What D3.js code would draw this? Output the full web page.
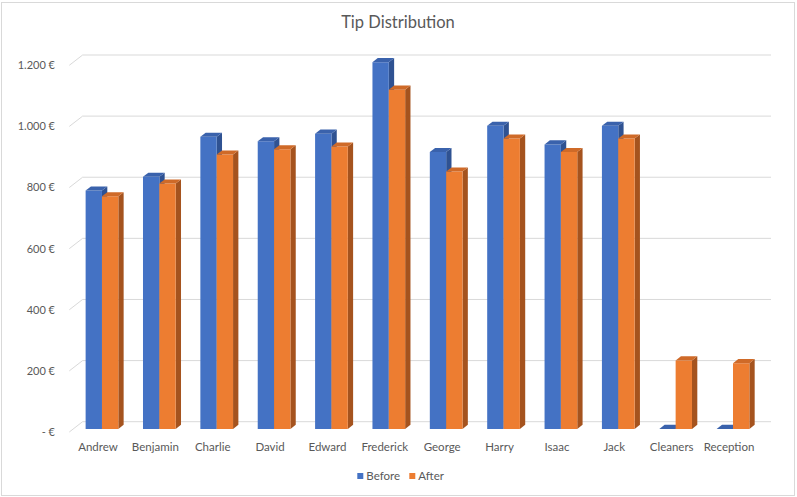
<!DOCTYPE html>
<html>
<head>
<meta charset="utf-8">
<script src="https://cdn.jsdelivr.net/npm/d3@7"></script>
<style>
  html, body { margin: 0; padding: 0; background: #fff; }
  svg { display: block; font-family: Lato, "Open Sans", sans-serif; }
</style>
</head>
<body>
<div id="chart"></div>
<script>
// Tip distribution - fake 3D clustered columns (Excel look)

const categories = ["Andrew", "Benjamin", "Charlie", "David", "Edward", "Frederick",
                    "George", "Harry", "Isaac", "Jack", "Cleaners", "Reception"];
const seriesNames = ["Before", "After"];
const before = [780, 825, 956, 941, 966, 1200, 906, 992, 931, 992, 0, 0];
const after  = [761, 803, 898, 915, 924, 1110, 842, 950, 906, 950, 224, 215];
const yTicks = [0, 200, 400, 600, 800, 1000, 1200];

const width = 797, height = 497;
const colors = {
    Before: { front: "#4472C4", top: "#3A62AC", side: "#2F5292" },
    After:  { front: "#ED7D31", top: "#CF6A28", side: "#A5531E" }
};

// depth vector from front plane to back wall
const DX = 13.3, DY = -10.3;
const T0 = 0.3, T1 = 0.7; // bar front / back depth

const svg = d3.select("#chart").append("svg")
    .attr("width", width)
    .attr("height", height);

// chart border
svg.append("rect")
    .attr("x", 1.5).attr("y", 2.5)
    .attr("width", 793).attr("height", 493)
    .attr("fill", "#fff")
    .attr("stroke", "#d9d9d9");

const yBack = d3.scaleLinear().domain([0, 1200]).range([421.7, 55]);
const yFront = v => yBack(v) - DY;

const x0 = d3.scaleBand()
    .domain(categories)
    .range([69.3, 757.7])
    .paddingInner(0.43)
    .paddingOuter(0.215);
const x1 = d3.scaleBand()
    .domain(seriesNames)
    .range([0, x0.bandwidth()]);

// project a front-plane point to depth t
const P = (x, v, t) => [x + t * DX, yFront(v) + t * DY];

// gridlines: back wall + left wall diagonal
const grid = svg.append("g").attr("stroke", "#d9d9d9").attr("fill", "none");
yTicks.forEach(v => {
    const a = P(69.3, v, 0), b = P(69.3, v, 1);
    grid.append("path")
        .attr("d", `M${a[0]},${a[1]}L${b[0]},${b[1]}L${757.7 + DX},${b[1]}`);
});

// y labels
const fmt = v => v === 0 ? "- €" : d3.format(",")(v).replace(/,/g, ".") + " €";
svg.append("g").selectAll("text")
    .data(yTicks)
    .enter().append("text")
    .attr("x", 55)
    .attr("y", d => yFront(d))
    .attr("dy", "0.35em")
    .attr("text-anchor", "end")
    .attr("fill", "#595959")
    .style("font-size", "11px")
    .text(fmt);

// bars
const rows = categories.map((c, i) => ({ cat: c, Before: before[i], After: after[i] }));
const bars = svg.append("g");
seriesNames.forEach(s => {
    rows.forEach(r => {
        const v = r[s];
        const xl = x0(r.cat) + x1(s);
        const xr = xl + x1.bandwidth();
        const poly = pts => pts.map(p => p.join(",")).join(" ");
        const g = bars.append("g");
        if (v > 0) {
            // side face
            g.append("polygon")
                .attr("points", poly([P(xr, 0, T0), P(xr, 0, T1), P(xr, v, T1), P(xr, v, T0)]))
                .attr("fill", colors[s].side);
            // front face
            g.append("polygon")
                .attr("points", poly([P(xl, 0, T0), P(xr, 0, T0), P(xr, v, T0), P(xl, v, T0)]))
                .attr("fill", colors[s].front);
        }
        // top face
        g.append("polygon")
            .attr("points", poly([P(xl, v, T0), P(xr, v, T0), P(xr, v, T1), P(xl, v, T1)]))
            .attr("fill", colors[s].top);
    });
});

// category labels
svg.append("g").selectAll("text")
    .data(categories)
    .enter().append("text")
    .attr("x", d => x0(d) + x0.bandwidth() / 2)
    .attr("y", 447)
    .attr("dy", "0.35em")
    .attr("text-anchor", "middle")
    .attr("fill", "#595959")
    .style("font-size", "11.5px")
    .text(d => d);

// title
svg.append("text")
    .attr("x", 398)
    .attr("y", 28)
    .attr("text-anchor", "middle")
    .attr("fill", "#595959")
    .style("font-size", "16.5px")
    .text("Tip Distribution");

// legend
const legend = svg.append("g");
const legendX = [357.3, 409.3];
seriesNames.forEach((s, i) => {
    legend.append("rect")
        .attr("x", legendX[i]).attr("y", 473)
        .attr("width", 6).attr("height", 6)
        .attr("fill", colors[s].front);
    legend.append("text")
        .attr("x", legendX[i] + 9)
        .attr("y", 476)
        .attr("dy", "0.35em")
        .attr("fill", "#595959")
        .style("font-size", "11.5px")
        .text(s);
});
</script>
</body>
</html>
